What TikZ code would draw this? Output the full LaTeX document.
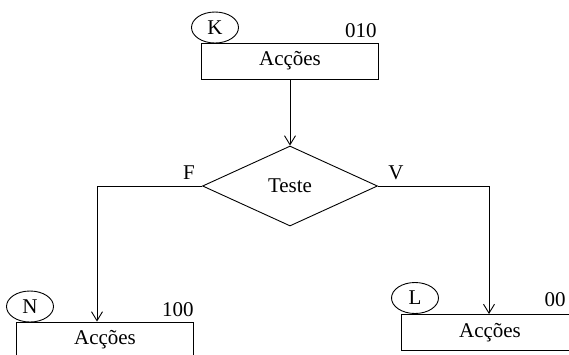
\documentclass[tikz,border=0pt]{standalone}
\usepackage{fontspec}
\setmainfont{Liberation Serif}
\usetikzlibrary{shapes.geometric,arrows.meta}
\begin{document}
\begin{tikzpicture}[x=1pt,y=-1pt,
  font=\fontsize{21}{25}\selectfont,
  line width=0.9pt,
  box/.style={draw, minimum width=177pt, minimum height=36pt, inner sep=0pt},
  tag/.style={draw, ellipse, minimum width=47pt, minimum height=31pt, inner sep=0pt},
  lbl/.style={inner sep=0pt},
  arr/.style={-{Straight Barb[length=9pt,width=11pt]}}]
\useasboundingbox (0,0) rectangle (569,354);
\clip (0,0) rectangle (569,354);
% top block
\node[box] (kb) at (290,61) {Acções};
\node[tag] (k) at (215,27.5) {K};
\node[lbl, anchor=east] (kc) at (377,31) {010};
% decision
\node[draw, diamond, aspect=2.19, minimum width=175pt, minimum height=80pt, inner sep=0pt] (t) at (290,186) {Teste};
\draw[arr] (kb.south) -- (t.north);
\node[lbl] (f) at (189,173) {F};
\node[lbl] (v) at (396,173) {V};
\coordinate (lc) at (97,186);
\coordinate (rc) at (489,186);
% left block
\node[box] (nb) at (105,340) {Acções};
\node[tag] (n) at (30,306.5) {N};
\node[lbl, anchor=east] (nc) at (194,309.5) {100};
% right block
\node[box] (lb) at (490,332.5) {Acções};
\node[tag] (l) at (415,298) {L};
\node[lbl, anchor=east] (lcode) at (566,300) {00};
% connectors
\draw[arr] (t.west) -- (lc) -- (lc |- nb.north);
\draw[arr] (t.east) -- (rc) -- (rc |- lb.north);
\end{tikzpicture}
\end{document}
